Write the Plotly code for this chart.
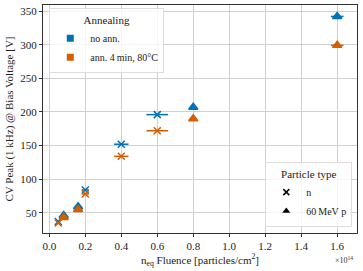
import plotly.graph_objects as go

# Data (fluence in 1e14 particles/cm^2)
n_fluence = [0.05, 0.2, 0.4, 0.6]
n_fluence_err = [0.005, 0.02, 0.04, 0.06]
n_noann = [37, 84, 152, 196]
n_ann = [35, 78, 134, 172]

p_fluence = [0.08, 0.16, 0.8, 1.6]
p_fluence_err = [0.0, 0.0, 0.0, 0.035]
p_noann = [46, 59, 207, 342]
p_ann = [43, 55, 190, 299]

x_ticks = [0.0, 0.2, 0.4, 0.6, 0.8, 1.0, 1.2, 1.4, 1.6]
x_ticklabels = ["0.0", "0.2", "0.4", "0.6", "0.8", "1.0", "1.2", "1.4", "1.6"]
y_ticks = [50, 100, 150, 200, 250, 300, 350]

blue = "#0072B2"
orange = "#D55E00"
font = "Liberation Serif"

fig = go.Figure()

def add(x, xe, y, color, symbol, size):
    fig.add_trace(go.Scatter(
        x=x, y=y, mode="markers",
        marker=dict(symbol=symbol, color=color, size=size,
                    line=dict(width=1.5, color=color)),
        error_x=dict(type="data", array=xe, color=color, thickness=1.5, width=0),
        showlegend=False))

add(n_fluence, n_fluence_err, n_noann, blue, "x-thin", 7)
add(n_fluence, n_fluence_err, n_ann, orange, "x-thin", 7)
add(p_fluence, p_fluence_err, p_noann, blue, "triangle-up", 8)
add(p_fluence, p_fluence_err, p_ann, orange, "triangle-up", 8)

# Legend entries
fig.add_trace(go.Scatter(x=[None], y=[None], mode="markers", name="no ann.",
                         marker=dict(symbol="square", color=blue, size=7), legend="legend"))
fig.add_trace(go.Scatter(x=[None], y=[None], mode="markers", name="ann. 4\u2009min, 80\u00b0C",
                         marker=dict(symbol="square", color=orange, size=7), legend="legend"))
fig.add_trace(go.Scatter(x=[None], y=[None], mode="markers", name="n",
                         marker=dict(symbol="x-thin", color="black", size=6,
                                     line=dict(width=1.5, color="black")), legend="legend2"))
fig.add_trace(go.Scatter(x=[None], y=[None], mode="markers", name="60\u2009MeV p",
                         marker=dict(symbol="triangle-up", color="black", size=7), legend="legend2"))

axis_common = dict(showline=True, linecolor="#333", linewidth=1, mirror=True,
                   ticks="outside", ticklen=3, tickcolor="#333",
                   showgrid=True, gridcolor="#d0d0d0", gridwidth=1,
                   zeroline=False, tickfont=dict(family=font, size=11, color="#222"))

fig.update_layout(
    width=363, height=271,
    margin=dict(l=43, r=6, t=5, b=38),
    paper_bgcolor="white", plot_bgcolor="white",
    font=dict(family=font, size=11, color="#222"),
    xaxis=dict(range=[-0.035, 1.71], tickvals=x_ticks, ticktext=x_ticklabels, **axis_common),
    yaxis=dict(range=[20, 359], tickvals=y_ticks,
               title=dict(text="CV Peak (1 kHz) @ Bias Voltage [V]",
                          font=dict(family=font, size=11), standoff=4),
               **axis_common),
    legend=dict(x=0.02, y=0.985, xanchor="left", yanchor="top",
                title=dict(text="Annealing", side="top center", font=dict(family=font, size=11)),
                bgcolor="rgba(255,255,255,0.8)", bordercolor="#dddddd", borderwidth=1,
                font=dict(family=font, size=10), itemwidth=30, tracegroupgap=0),
    legend2=dict(x=0.985, y=0.025, xanchor="right", yanchor="bottom",
                 title=dict(text="Particle type", side="top center", font=dict(family=font, size=11)),
                 bgcolor="rgba(255,255,255,0.8)", bordercolor="#dddddd", borderwidth=1,
                 font=dict(family=font, size=10), itemwidth=30),
    annotations=[
        dict(text="n<sub>eq</sub> Fluence [particles/cm<sup>2</sup>]", x=0.5, y=-0.117,
             xref="paper", yref="paper", xanchor="center", yanchor="middle", showarrow=False,
             font=dict(family=font, size=11, color="#222")),
        dict(text="\u00d710<sup>14</sup>", x=0.995, y=-0.118, xref="paper", yref="paper",
             xanchor="right", yanchor="middle", showarrow=False,
             font=dict(family=font, size=8, color="#333")),
    ],
)

fig.write_html("out.html", post_script="document.body.style.margin='0';",
               config={"displayModeBar": False})
